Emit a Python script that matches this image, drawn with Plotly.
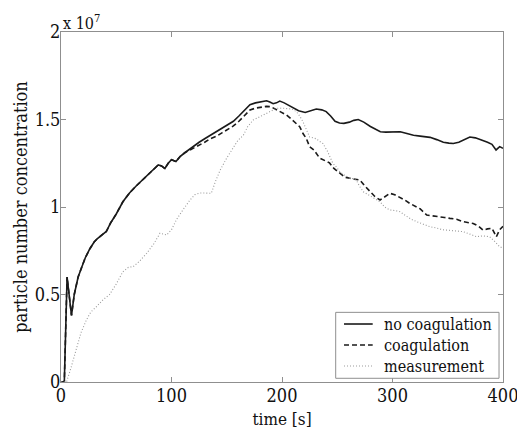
import numpy as np
import plotly.graph_objects as go

SCALE = 1e7

# no coagulation (values in units of 1e7)
t_nocoag = [0, 3, 5.5, 9.5, 12, 15.5, 19, 22, 26, 30, 33, 37, 41, 45, 50, 56, 62, 68, 72, 78, 84, 88,
            91, 94, 97, 100, 104, 108, 112, 115, 120, 125, 130, 135, 141, 146, 151, 156, 161, 166,
            171, 176, 181, 186, 189, 192, 195, 198, 202, 206, 210, 215, 221, 226, 231, 236, 240, 244,
            248, 252, 256, 261, 265, 269, 274, 280, 285, 289, 294, 300, 307, 313, 319, 325, 330, 334,
            340, 346, 351, 355, 360, 365, 370, 375, 382, 386, 390, 393.7, 397, 400]
v_nocoag = [0, 0, 0.60, 0.38, 0.50, 0.60, 0.66, 0.71, 0.76, 0.80, 0.82, 0.84, 0.86, 0.91, 0.96, 1.03,
            1.08, 1.12, 1.145, 1.18, 1.22, 1.24, 1.235, 1.22, 1.25, 1.27, 1.26, 1.29, 1.31, 1.325,
            1.345, 1.37, 1.39, 1.41, 1.43, 1.455, 1.47, 1.49, 1.52, 1.55, 1.585, 1.595, 1.60, 1.607,
            1.60, 1.59, 1.595, 1.605, 1.595, 1.58, 1.565, 1.55, 1.54, 1.55, 1.56, 1.555, 1.545, 1.52,
            1.49, 1.48, 1.478, 1.485, 1.495, 1.50, 1.485, 1.46, 1.445, 1.43, 1.428, 1.43, 1.43, 1.42,
            1.41, 1.405, 1.40, 1.398, 1.385, 1.37, 1.365, 1.363, 1.37, 1.385, 1.40, 1.395, 1.38, 1.37,
            1.358, 1.326, 1.345, 1.335]

# coagulation
t_coag = [0, 3, 5.5, 9.5, 12, 15.5, 19, 22, 26, 30, 33, 37, 41, 45, 50, 56, 62, 68, 72, 78, 84, 88,
          91, 94, 97, 100, 104, 108, 112, 115, 120, 125, 130, 135, 141, 146, 151, 156, 161, 166, 171,
          176, 181, 186, 190, 195, 199, 204, 208, 213, 216, 219, 222, 225, 229, 234, 237, 240, 243,
          247, 252.5, 257, 261.5, 266, 270.6, 275, 279.6, 284, 288.7, 293, 297.7, 302, 306.8, 311,
          315.8, 320, 324.9, 331, 337, 343, 347, 352, 358, 364, 368, 373, 378, 382, 386, 390, 394,
          397, 400]
v_coag = [0, 0, 0.60, 0.38, 0.50, 0.60, 0.66, 0.71, 0.76, 0.80, 0.82, 0.84, 0.86, 0.91, 0.96, 1.03,
          1.08, 1.12, 1.145, 1.18, 1.22, 1.24, 1.235, 1.22, 1.25, 1.27, 1.26, 1.29, 1.31, 1.32, 1.335,
          1.35, 1.37, 1.39, 1.405, 1.425, 1.445, 1.463, 1.49, 1.525, 1.554, 1.565, 1.572, 1.575,
          1.573, 1.555, 1.545, 1.526, 1.505, 1.478, 1.459, 1.42, 1.392, 1.345, 1.325, 1.28, 1.27,
          1.26, 1.252, 1.22, 1.19, 1.17, 1.164, 1.16, 1.154, 1.12, 1.09, 1.06, 1.04, 1.06, 1.078,
          1.07, 1.055, 1.04, 1.02, 1.005, 0.99, 0.954, 0.95, 0.945, 0.94, 0.935, 0.93, 0.916, 0.912,
          0.906, 0.89, 0.868, 0.875, 0.878, 0.83, 0.87, 0.89]

# measurement
t_meas = [0, 5, 9, 14, 18, 23, 27, 32, 38, 44, 50, 56, 61, 65.5, 71, 77.5, 84, 89.6, 95.6, 100,
          104.7, 110, 116.7, 121, 125.8, 130, 136, 140, 144, 150, 156, 160, 165, 169, 174, 180, 186,
          190, 195, 200, 204, 209, 213, 216, 219, 222, 225, 228, 231, 234, 237, 241, 246, 249, 252.5,
          257, 261.5, 265, 267.6, 270, 273.6, 278, 283, 288.7, 293, 297.7, 302, 306.8, 312, 317, 322,
          328, 334, 340, 345, 349, 355, 360, 364, 370, 376, 382, 388, 393, 397, 400]
v_meas = [0, 0.0, 0.08, 0.2, 0.28, 0.355, 0.40, 0.43, 0.47, 0.50, 0.56, 0.63, 0.655, 0.66, 0.69,
          0.735, 0.79, 0.85, 0.84, 0.87, 0.93, 0.98, 1.04, 1.07, 1.08, 1.08, 1.078, 1.15, 1.21, 1.28,
          1.345, 1.38, 1.41, 1.46, 1.497, 1.516, 1.535, 1.55, 1.564, 1.565, 1.564, 1.56, 1.545, 1.52,
          1.487, 1.44, 1.40, 1.395, 1.39, 1.375, 1.363, 1.32, 1.25, 1.23, 1.20, 1.18, 1.165, 1.16,
          1.15, 1.12, 1.087, 1.07, 1.05, 1.03, 1.00, 0.983, 0.98, 0.973, 0.95, 0.93, 0.916, 0.90,
          0.887, 0.88, 0.87, 0.868, 0.865, 0.86, 0.859, 0.845, 0.83, 0.835, 0.83, 0.80, 0.773, 0.765]

series_names = ["no coagulation", "coagulation", "measurement"]
x_ticks = [0, 100, 200, 300, 400]
y_ticks = [0, 0.5, 1, 1.5, 2]
y_tick_labels = ["0", "0.5", "1", "1.5", "2"]

FONT = "DejaVu Serif Condensed, DejaVu Serif"
TXT = "#111111"
AXC = "#8f8f8f"

styles = [
    dict(color="#1a1a1a", width=1.6),
    dict(color="#1a1a1a", width=1.6, dash="5px,3px"),
    dict(color="#9a9a9a", width=1.1, dash="1px,2px"),
]
series = [(t_nocoag, v_nocoag), (t_coag, v_coag), (t_meas, v_meas)]

fig = go.Figure()
for (t, v), name, st in zip(series, series_names, styles):
    fig.add_trace(go.Scatter(x=t, y=np.array(v) * SCALE, mode="lines", name=name,
                             line=st, showlegend=False))

axis_common = dict(showline=True, linecolor=AXC, linewidth=1, mirror="ticks",
                   ticks="inside", ticklen=5, tickcolor=AXC, showgrid=False, zeroline=False,
                   ticklabeloverflow="allow", automargin=False,
                   tickfont=dict(family=FONT, size=18, color=TXT))

fig.update_xaxes(range=[0, 400], tickvals=x_ticks, ticklabelstandoff=-3,
                 title=dict(text="time [s]", font=dict(family=FONT, size=17, color=TXT), standoff=8),
                 **axis_common)
fig.update_yaxes(range=[0, 2 * SCALE], tickvals=[v * SCALE for v in y_ticks], ticktext=y_tick_labels,
                 ticklabelstandoff=-4,
                 title=dict(text="particle number concentration",
                            font=dict(family=FONT, size=18, color=TXT), standoff=2),
                 **axis_common)

fig.add_annotation(x=0, y=1, xref="paper", yref="paper", xanchor="left", yanchor="bottom",
                   xshift=0, yshift=-3, showarrow=False, text="x 10<sup>7</sup>",
                   font=dict(family=FONT, size=16, color=TXT))

fig.add_shape(type="rect", xref="paper", yref="paper", x0=0.6215, x1=0.991, y0=0.0106, y1=0.199,
              line=dict(color=AXC, width=1), fillcolor="white", layer="above")
row_y = [0.1657, 0.1057, 0.0457]
for name, st, yy in zip(series_names, styles, row_y):
    fig.add_shape(type="line", xref="paper", yref="paper", x0=0.6403, x1=0.7052, y0=yy, y1=yy,
                  line=st, layer="above")
    fig.add_annotation(x=0.7256, y=yy, xref="paper", yref="paper", xanchor="left", yanchor="middle",
                       showarrow=False, text=name, font=dict(family=FONT, size=16, color=TXT))

fig.update_layout(
    width=517, height=432,
    margin=dict(l=61, r=14, t=32, b=50),
    paper_bgcolor="white", plot_bgcolor="white",
    showlegend=False,
)

fig.write_html("out.html", config={"displayModeBar": False},
               post_script="document.body.style.margin='0';document.body.style.overflow='hidden';")
